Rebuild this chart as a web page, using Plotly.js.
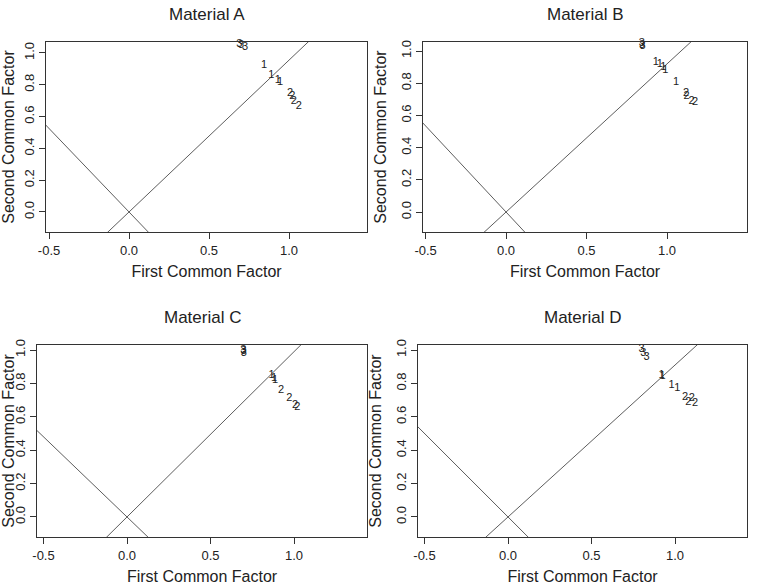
<!DOCTYPE html>
<html><head><meta charset="utf-8">
<script src="https://cdn.plot.ly/plotly-3.0.1.min.js"></script>
<style>html,body{margin:0;padding:0;background:#fff}#chart{width:765px;height:587px}</style>
</head><body><div id="chart"></div>
<script>
// ---- data ----
const panelTitles = ["Material A", "Material B", "Material C", "Material D"];
const xTickVals = [-0.5, 0, 0.5, 1.0];
const xTickText = ["-0.5", "0.0", "0.5", "1.0"];
const yTickVals = [0, 0.2, 0.4, 0.6, 0.8, 1.0];
const yTickText = ["0.0", "0.2", "0.4", "0.6", "0.8", "1.0"];

const labelsA = ["3","3","3","1","1","1","1","2","2","2","2"];
const xA = [0.690,0.700,0.725,0.844,0.890,0.930,0.944,1.006,1.020,1.030,1.062];
const yA = [1.052,1.048,1.038,0.925,0.862,0.830,0.813,0.747,0.725,0.694,0.662];

const labelsB = ["3","3","3","1","1","1","1","1","2","2","2","2"];
const xB = [0.843,0.845,0.848,0.930,0.956,0.977,0.990,1.056,1.118,1.122,1.153,1.174];
const yB = [1.047,1.037,1.027,0.932,0.917,0.898,0.882,0.809,0.737,0.720,0.685,0.679];

const labelsC = ["3","3","3","1","1","1","2","2","2","2"];
const xC = [0.696,0.698,0.700,0.866,0.880,0.886,0.922,0.972,1.006,1.020];
const yC = [1.000,0.990,0.980,0.850,0.830,0.820,0.760,0.714,0.670,0.660];

const labelsD = ["3","3","3","1","1","1","1","2","2","2","2"];
const xD = [0.800,0.810,0.830,0.920,0.925,0.980,1.014,1.060,1.080,1.100,1.120];
const yD = [1.006,0.980,0.955,0.850,0.845,0.790,0.770,0.720,0.690,0.710,0.680];

// slopes of the two reference lines through the origin, per panel
const slopesFirst = [0.955, 0.92, 0.99, 0.91];
const slopesSecond = [-1.05, -1.07, -0.96, -1.0];

// ---- layout geometry (pixels) ----
const W = 765, H = 587;
const boxes = [
  {l:46, r:367, t:42, b:232, xr:[-0.519,1.4875], yr:[-0.126,1.069]},
  {l:423, r:747, t:42, b:232, xr:[-0.516,1.497], yr:[-0.124,1.056]},
  {l:37, r:367, t:345, b:537, xr:[-0.539,1.437], yr:[-0.12,1.03]},
  {l:418, r:747, t:345, b:537, xr:[-0.539,1.431], yr:[-0.12,1.03]}
];
const labelSets = [[labelsA,xA,yA],[labelsB,xB,yB],[labelsC,xC,yC],[labelsD,xD,yD]];

const traces = [];
const layout = {
  width: W, height: H, margin:{l:0,r:0,t:0,b:0},
  paper_bgcolor:'#fff', plot_bgcolor:'#fff', showlegend:false,
  font:{family:'Liberation Sans, Arial, sans-serif', color:'#222'},
  annotations: []
};
const txtCol = '#222', lineCol = '#333';

boxes.forEach((bx, i) => {
  const n = i + 1;
  const xa = 'x' + (n === 1 ? '' : n), ya = 'y' + (n === 1 ? '' : n);
  const xkey = 'xaxis' + (n === 1 ? '' : n), ykey = 'yaxis' + (n === 1 ? '' : n);
  const [labs, xs, ys] = labelSets[i];
  traces.push({type:'scatter', mode:'text', x: xs, y: ys, text: labs, xaxis: xa, yaxis: ya,
    textfont:{size:11, color:txtCol, family:'Liberation Sans, Arial, sans-serif'}, hoverinfo:'none', cliponaxis:false});
  const ext = [-3, 3];
  traces.push({type:'scatter', mode:'lines', x: ext, y: ext.map(v => v * slopesFirst[i]), xaxis: xa, yaxis: ya,
    line:{color:lineCol, width:0.8}, hoverinfo:'none'});
  traces.push({type:'scatter', mode:'lines', x: ext, y: ext.map(v => v * slopesSecond[i]), xaxis: xa, yaxis: ya,
    line:{color:lineCol, width:0.8}, hoverinfo:'none'});
  layout[xkey] = {domain:[bx.l/W, bx.r/W], range: bx.xr, anchor: ya, tickvals: xTickVals, ticktext: xTickText,
    ticks:'outside', ticklen:6, tickcolor:lineCol, showline:true, linecolor:lineCol, linewidth:1, mirror:true,
    showgrid:false, zeroline:false, tickfont:{size:13, color:txtCol},
    title:{text:'First Common Factor', font:{size:16, color:txtCol}, standoff:9}};
  layout[ykey] = {domain:[1 - bx.b/H, 1 - bx.t/H], range: bx.yr, anchor: xa, tickvals: yTickVals, ticktext: yTickText,
    ticks:'outside', ticklen:6, tickcolor:lineCol, showline:true, linecolor:lineCol, linewidth:1, mirror:true,
    showgrid:false, zeroline:false, tickangle:-90, tickfont:{size:13, color:txtCol},
    title:{text:'Second Common Factor', font:{size:16, color:txtCol}, standoff:8}};
  layout.annotations.push({text: panelTitles[i], xref:'paper', yref:'paper', x:(bx.l+bx.r)/2/W, y:1 - (bx.t - 28)/H,
    xanchor:'center', yanchor:'middle', showarrow:false, font:{size:17, color:txtCol}});
});

Plotly.newPlot('chart', traces, layout, {staticPlot:true});
</script></body></html>
